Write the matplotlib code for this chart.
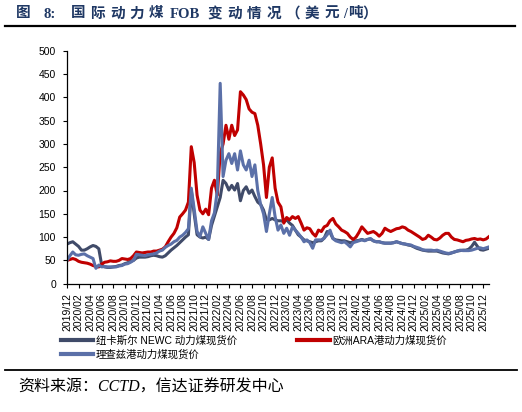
import numpy as np
import pandas as pd
import matplotlib
matplotlib.use('Agg')
import matplotlib.pyplot as plt
from matplotlib.lines import Line2D

plt.rcParams['font.family'] = ['Liberation Sans', 'Noto Sans CJK SC', 'DejaVu Sans']

# months since 2019/12, half-month steps
months = np.arange(0, 73.01, 0.5)

ara = [50, 52, 54, 52, 48, 46, 45, 44, 42, 39, 37, 36,
       42, 46, 47, 49, 48, 48, 50, 54, 53, 52, 54, 60,
       68, 67, 66, 67, 68, 68, 70, 70, 72, 74, 79, 90,
       100, 108, 120, 143, 150, 158, 175, 294, 260, 190, 158, 150,
       160, 148, 205, 222, 190, 280, 300, 340, 310, 340, 318, 330,
       412, 405, 395, 375, 368, 365, 340, 300, 255, 185, 250, 270,
       205, 175, 165, 130, 142, 137, 144, 140, 144, 130, 115, 120,
       118, 108, 102, 115, 112, 122, 125, 135, 140, 128, 122, 115,
       112, 108, 100, 95, 100, 110, 122, 115, 108, 110, 112, 108,
       102, 108, 119, 115, 112, 115, 118, 119, 122, 120, 115, 112,
       108, 104, 100, 95, 97, 104, 100, 95, 94, 98, 104, 108,
       108, 100, 95, 94, 92, 90, 93, 94, 96, 97, 95, 96,
       94, 96, 101]

richards = [50, 60, 68, 62, 61, 63, 64, 60, 57, 54, 33, 40,
            36, 37, 36, 36, 36, 36, 38, 39, 42, 43, 46, 50,
            63, 62, 61, 60, 62, 63, 64, 66, 70, 72, 78, 82,
            85, 90, 93, 100, 104, 110, 118, 205, 160, 112, 101, 122,
            108, 95, 135, 152, 200, 430, 230, 265, 279, 258, 279, 244,
            285, 255, 244, 265, 230, 255, 200, 170, 150, 112, 150, 185,
            144, 115, 126, 108, 119, 104, 122, 115, 108, 100, 90, 94,
            88, 76, 94, 94, 94, 98, 105, 115, 97, 92, 90, 88,
            90, 85, 79, 88, 90, 92, 94, 92, 95, 97, 92, 90,
            90, 88, 87, 87, 87, 88, 90, 88, 86, 85, 84, 83,
            80, 78, 76, 73, 72, 72, 72, 71, 72, 70, 68, 66,
            65, 66, 68, 70, 72, 71, 71, 71, 72, 74, 76, 77,
            75, 77, 79]

newc = [85, 88, 90, 85, 80, 72, 72, 75, 79, 82, 80, 75,
        40, 36, 35, 35, 36, 37, 39, 40, 43, 45, 48, 50,
        55, 57, 57, 57, 58, 60, 61, 60, 58, 57, 60, 66,
        72, 77, 82, 88, 94, 100, 105, 200, 150, 105, 100, 98,
        100, 95, 125, 145, 165, 185, 222, 215, 201, 211, 201, 215,
        178, 200, 208, 194, 201, 187, 175, 170, 158, 137, 137, 140,
        137, 135, 135, 133, 137, 130, 125, 115, 105, 100, 94, 92,
        90, 88, 90, 92, 92, 98, 112, 110, 97, 94, 93, 92,
        92, 90, 88, 90, 92, 93, 95, 93, 95, 96, 92, 90,
        90, 88, 87, 87, 87, 88, 90, 88, 86, 85, 83, 82,
        79, 76, 74, 72, 71, 70, 70, 70, 70, 68, 66, 65,
        64, 66, 68, 70, 71, 72, 72, 74, 80, 89, 80, 73,
        72, 74, 76]

tick_months = np.arange(0, 73, 2)
tick_labels = list(pd.date_range('2019-12-01', '2025-12-01', freq='2MS').strftime('%Y/%m'))

label_newc = '纽卡斯尔 NEWC 动力煤现货价'
label_ara = '欧洲ARA港动力煤现货价'
label_rb = '理查兹港动力煤现货价'

c_newc = '#404B69'
c_ara = '#C00000'
c_rb = '#5B70A8'

W, H = 522, 412
fig = plt.figure(figsize=(W / 100, H / 100), dpi=100)
ax = fig.add_axes([67 / W, 1 - 283.7 / H, 422 / W, 233 / H])

ax.plot(months, newc, color=c_newc, lw=2.2, solid_joinstyle='round')
ax.plot(months, ara, color=c_ara, lw=2.2, solid_joinstyle='round')
ax.plot(months, richards, color=c_rb, lw=2.2, solid_joinstyle='round')

ax.set_xlim(0, 73)
ax.set_ylim(0, 500)
ax.set_yticks(np.arange(0, 501, 50))
ax.set_xticks(tick_months)
ax.set_xticklabels(tick_labels, rotation=90)
ax.tick_params(axis='both', labelsize=7.5, length=3, width=0.8, direction='out', colors='black')
ax.tick_params(axis='y', pad=5)
ax.tick_params(axis='x', pad=4)
for s in ['top', 'right']:
    ax.spines[s].set_visible(False)
for s in ['left', 'bottom']:
    ax.spines[s].set_linewidth(0.9)

handles = [Line2D([], [], color=c_newc, lw=3),
           Line2D([], [], color=c_rb, lw=3),
           Line2D([], [], color=c_ara, lw=3)]
fig.legend(handles, [label_newc, label_rb, label_ara], ncol=2, frameon=False,
           loc='upper left', bbox_to_anchor=(61 / W, 1 - 335 / H), borderpad=0,
           borderaxespad=0, fontsize=7.5, handlelength=3.1, handletextpad=0.25,
           columnspacing=5.8, labelspacing=0.35)

# title, drawn piece by piece to get the wide letter spacing
navy = '#1F3864'
title_parts = [('图', 16, 10.5), ('8:', 43, 10.5), ('国', 71, 10.5), ('际', 90.5, 10.5),
               ('动', 110, 10.5), ('力', 129.5, 10.5), ('煤', 149, 10.5), ('FOB', 170, 10.5),
               ('变', 207, 10.5), ('动', 227, 10.5), ('情', 247, 10.5), ('况', 267, 10.5),
               ('（', 285, 10.5), ('美', 305, 10.5), ('元', 325, 10.5), ('/', 343, 10),
               ('吨', 348, 10.5), ('）', 362, 10.5)]
for txt, px, fs in title_parts:
    fig.text(px / W, 1 - 14 / H, txt, fontsize=fs, fontweight='bold', color=navy,
             va='center', ha='left', family=['Liberation Serif', 'Noto Sans CJK SC'])

fig.add_artist(Line2D([5 / W, 515 / W], [1 - 25.5 / H] * 2, color='black', lw=1.6))
fig.add_artist(Line2D([5 / W, 517 / W], [1 - 370 / H] * 2, color='black', lw=1.3))
fig.text(18 / W, 1 - 388 / H, '资料来源：CCTD，信达证券研发中心', fontsize=11.5, color='black',
         va='center', ha='left', style='italic',
         family=['Liberation Serif', 'Noto Sans CJK SC'])

fig.savefig('out.png', dpi=100)
